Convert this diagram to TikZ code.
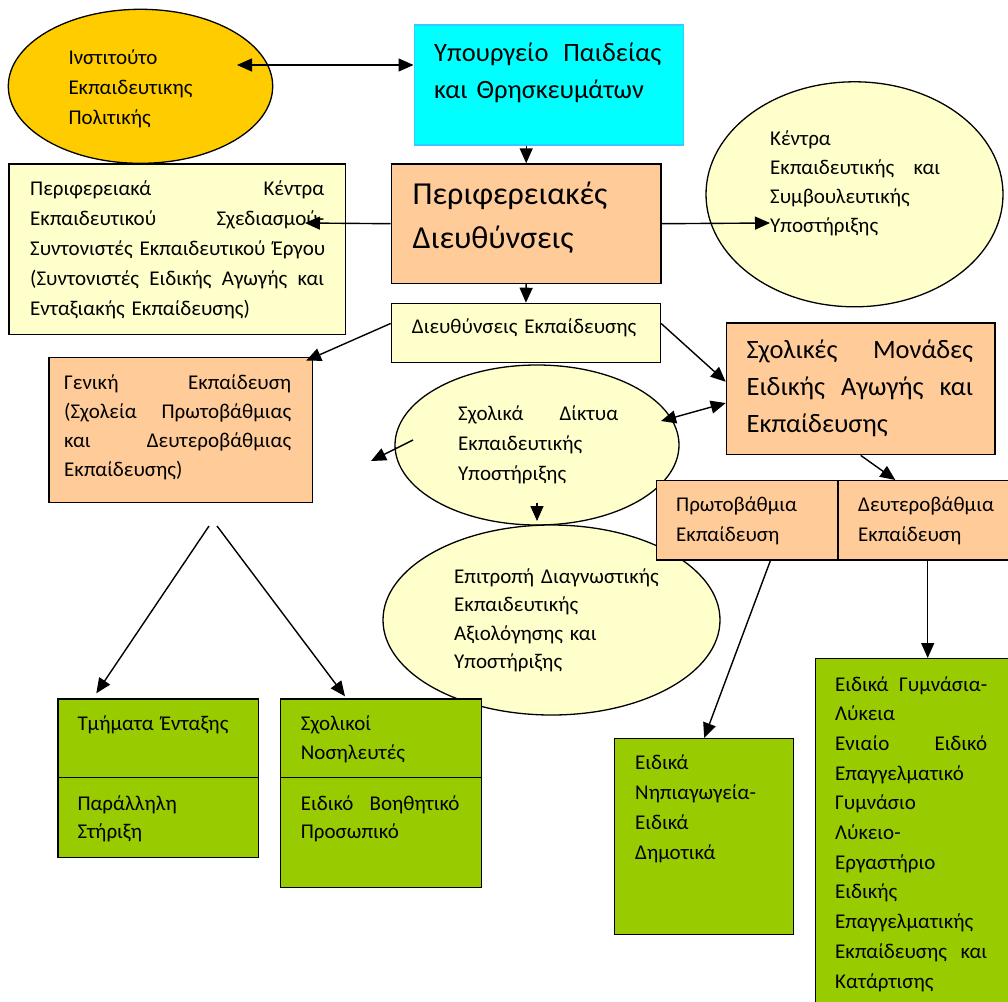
\documentclass[tikz,border=0pt]{standalone}
\usepackage{fontspec}
\setmainfont{Carlito}
\usetikzlibrary{shapes.geometric,arrows.meta,calc,positioning}

\definecolor{gold}{HTML}{FFCC00}
\definecolor{aqua}{HTML}{00FFFF}
\definecolor{aquaborder}{HTML}{33CCFF}
\definecolor{peach}{HTML}{FFCC99}
\definecolor{cream}{HTML}{FFFFCC}
\definecolor{leaf}{HTML}{99CC00}

\begin{document}
\begin{tikzpicture}[
    %	style def
    x=1pt, y=-1pt,
    box/.style={rectangle, draw=black, line width=1.4pt, inner sep=0pt, anchor=north west},
    oval/.style={ellipse, draw=black, line width=1.3pt, inner sep=0pt},
    link/.style={line width=1.4pt, -{Triangle[length=15pt,width=13pt]}},
    dlink/.style={line width=1.4pt, {Triangle[length=15pt,width=13pt]}-{Triangle[length=15pt,width=13pt]}},
    txt/.style={anchor=base west, inner sep=0pt, align=left, font=\fontsize{21}{#1}\selectfont},
    txt/.default=30,
    midtxt/.style={font=\fontsize{26.5}{37}\selectfont},
    bigtxt/.style={font=\fontsize{32}{44}\selectfont}
    ]
    \useasboundingbox (0,0) rectangle (1008,1001);

    % ellipses (behind the boxes)
    \node[oval, fill=gold, minimum width=264.4pt, minimum height=154pt] (inst) at (140.5,86.3) {};
    \node[oval, fill=cream, minimum width=297pt, minimum height=225pt] (kesy) at (854.5,194.3) {};
    \node[oval, fill=cream, minimum width=284pt, minimum height=160pt] (sdey) at (537,445) {};
    \node[oval, fill=cream, minimum width=337pt, minimum height=190pt] (edeay) at (551.5,620) {};

    % boxes
    \node[box, fill=aqua, draw=aquaborder, line width=1.5pt, minimum width=269pt, minimum height=120pt] (ypourg) at (413.5,24.3) {};
    \node[box, fill=peach, minimum width=269.6pt, minimum height=119.4pt] (perif) at (390.7,163.3) {};
    \node[box, fill=cream, minimum width=336.7pt, minimum height=170.7pt] (pkes) at (8.3,163.3) {};
    \node[box, fill=cream, minimum width=269pt, minimum height=59pt] (dde) at (390.7,302.7) {};
    \node[box, fill=peach, minimum width=263.4pt, minimum height=145pt] (geniki) at (48.3,356.7) {};
    \node[box, fill=peach, minimum width=268.6pt, minimum height=131.7pt] (smeae) at (725.7,322.3) {};
    \node[box, fill=peach, minimum width=181.3pt, minimum height=79.3pt] (protob) at (656,480) {};
    \node[box, fill=peach, minimum width=179.4pt, minimum height=79.3pt] (defterob) at (837.3,480) {};
    \node[box, fill=leaf, minimum width=200.4pt, minimum height=78.4pt] (tmA) at (57.3,698.3) {};
    \node[box, fill=leaf, minimum width=200.4pt, minimum height=80pt] (tmB) at (57.3,776.7) {};
    \node[box, fill=leaf, minimum width=201pt, minimum height=78.4pt] (nosA) at (280,698.3) {};
    \node[box, fill=leaf, minimum width=201pt, minimum height=110pt] (nosB) at (280,776.7) {};
    \node[box, fill=leaf, minimum width=179pt, minimum height=196pt] (nipiag) at (614,738) {};
    \node[box, fill=leaf, minimum width=225pt, minimum height=360pt] (gymn) at (814.5,658) {};

    % texts
    \node[txt, text width=200pt] (instT) at (68.3,64) {Ινστιτούτο\\Εκπαιδευτικης\\Πολιτικής};
    \node[txt, midtxt, text width=227pt] (ypourgT) at (434,61.7) {Υπουργείο\hfill Παιδείας\\και~Θρησκευμάτων};
    \node[txt, bigtxt, text width=240pt] (perifT) at (412.5,204) {Περιφερειακές\\Διευθύνσεις};
    \node[txt, text width=294pt] (pkesT) at (30,195) {Περιφερειακά\hfill Κέντρα\\Εκπαιδευτικού\hfill Σχεδιασμού-\\Συντονιστές~Εκπαιδευτικού~Έργου\\(Συντονιστές\hfill Ειδικής\hfill Αγωγής\hfill και\\Ενταξιακής~Εκπαίδευσης)};
    \node[txt=29.3, text width=170pt] (kesyT) at (770,145) {Κέντρα\\Εκπαιδευτικής\hfill και\\Συμβουλευτικής\\Υποστήριξης};
    \node[txt, text width=240pt] (ddeT) at (411.7,333.3) {Διευθύνσεις~Εκπαίδευσης};
    \node[txt=29, text width=227pt] (genikiT) at (64,389) {Γενική\hfill Εκπαίδευση\\(Σχολεία\hfill Πρωτοβάθμιας\\και\hfill Δευτεροβάθμιας\\Εκπαίδευσης)};
    \node[txt, midtxt, text width=226.5pt] (smeaeT) at (746.4,358.3) {Σχολικές\hfill Μονάδες\\Ειδικής\hfill Αγωγής\hfill και\\Εκπαίδευσης};
    \node[txt, text width=160pt] (sdeyT) at (458,420) {Σχολικά\hfill Δίκτυα\\Εκπαιδευτικής\\Υποστήριξης};
    \node[txt=28.5, text width=240pt] (edeayT) at (454,583) {Επιτροπή~Διαγνωστικής\\Εκπαιδευτικής\\Αξιολόγησης~και\\Υποστήριξης};
    \node[txt, text width=160pt] (protobT) at (676,511.7) {Πρωτοβάθμια\\Εκπαίδευση};
    \node[txt, text width=160pt] (defterobT) at (858,511.7) {Δευτεροβάθμια\\Εκπαίδευση};
    \node[txt, text width=180pt] (tmAT) at (77.3,730) {Τμήματα~Ένταξης};
    \node[txt=28, text width=180pt] (tmBT) at (77.3,810) {Παράλληλη\\Στήριξη};
    \node[txt=29, text width=180pt] (nosAT) at (300.7,730) {Σχολικοί\\Νοσηλευτές};
    \node[txt=28, text width=158.6pt] (nosBT) at (300.7,810) {Ειδικό\hfill Βοηθητικό\\Προσωπικό};
    \node[txt, text width=160pt] (nipiagT) at (635,769) {Ειδικά\\Νηπιαγωγεία-\\Ειδικά\\Δημοτικά};
    \node[txt=29.7, text width=152pt] (gymnT) at (835,691) {Ειδικά\hfill Γυμνάσια-\\Λύκεια\\Ενιαίο\hfill Ειδικό\\Επαγγελματικό\\Γυμνάσιο\\Λύκειο-\\Εργαστήριο\\Ειδικής\\Επαγγελματικής\\Εκπαίδευσης\hfill και\\Κατάρτισης};

    % connectors
    \coordinate (instin) at (237,65);
    \coordinate (pkestip) at (305,223);
    \coordinate (kesytip) at (770,223);
    \coordinate (sdeyR) at (661,421);
    \coordinate (sdeyL) at (413,440);
    \coordinate (sdeyLtip) at (371,461);
    \coordinate (sdeyB) at (537,503);
    \coordinate (sdeyBtip) at (537,521);
    \coordinate (genikiL) at (209,526);
    \coordinate (genikiR) at (217,526);

    \draw[dlink] (instin) -- (instin -| ypourg.west);
    \draw[link] (ypourg.south -| perif.north) -- (perif.north);
    \draw[link] (perif.west) -- (pkestip);
    \draw[link] (perif.east) -- (kesytip);
    \draw[link] (perif.south) -- (dde.north);
    \draw[link] (dde.176) -- ($(geniki.north east)+(-7,4)$);
    \draw[link] (dde.4) -- (smeae.177);
    \draw[dlink] (sdeyR) -- (smeae.186);
    \draw[link] (sdeyL) -- (sdeyLtip);
    \draw[link] (sdeyB) -- (sdeyBtip);
    \draw[link] (smeae.south) -- ($(defterob.north west)+(58,0)$);
    \draw[link] ($(protob.south)+(23,0)$) -- (nipiag.north);
    \draw[link] (defterob.south) -- (gymn.north);
    \draw[link] (genikiL) -- ($(tmA.north west)+(39,-5)$);
    \draw[link] (genikiR) -- ($(nosA.north west)+(65,-2)$);

\end{tikzpicture}
\end{document}
